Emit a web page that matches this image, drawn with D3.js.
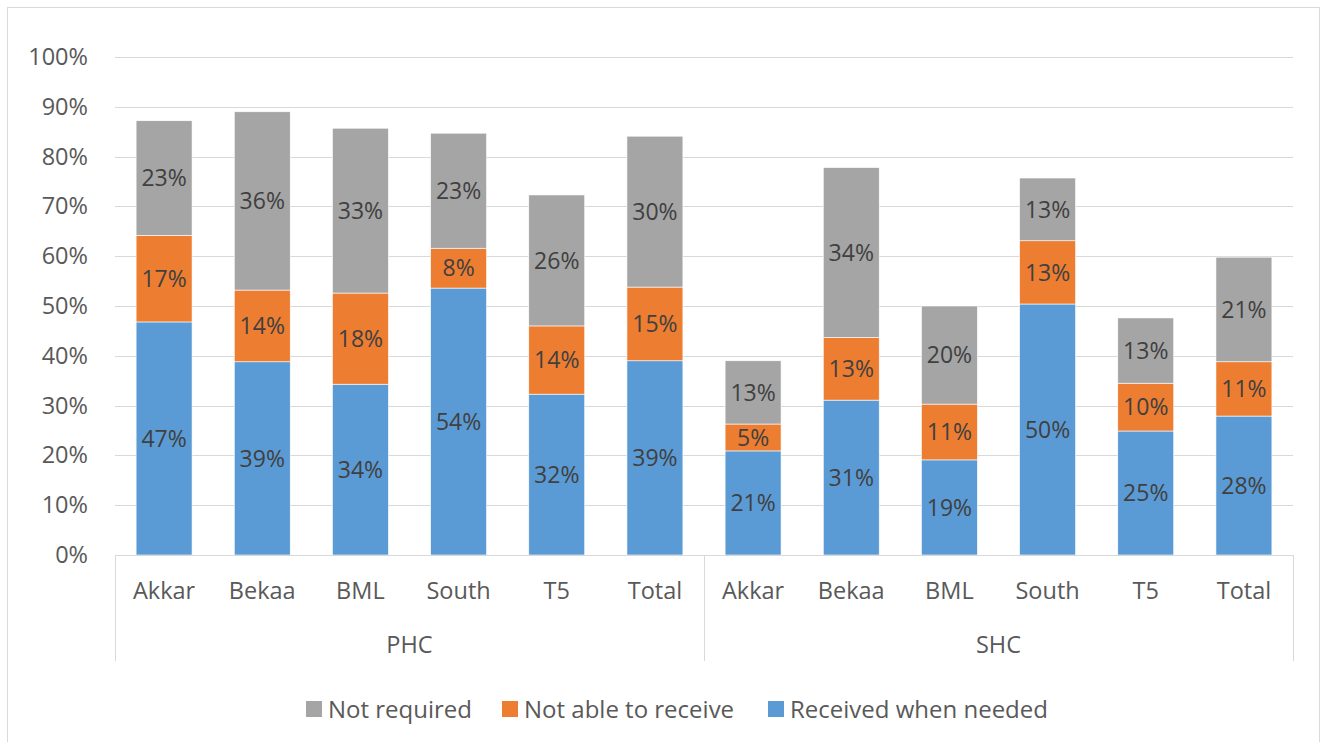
<!DOCTYPE html>
<html>
<head>
<meta charset="utf-8">
<script src="https://cdn.jsdelivr.net/npm/d3@7"></script>
<style>
  html, body { margin: 0; padding: 0; background: #fff; }
  svg { display: block; }
  text { font-family: "Open Sans", "Liberation Sans", sans-serif; }
</style>
</head>
<body>
<svg id="chart" width="1321" height="742"></svg>
<script>
const groups = ["PHC", "SHC"];
const regions = ["Akkar", "Bekaa", "BML", "South", "T5", "Total"];
const seriesNames = ["Received when needed", "Not able to receive", "Not required"];
const received    = [46.8, 38.8, 34.3, 53.6, 32.3, 39.0, 20.9, 31.1, 19.1, 50.4, 24.9, 27.9];
const notAble     = [17.4, 14.4, 18.3, 8.0, 13.7, 14.8, 5.4, 12.6, 11.2, 12.7, 9.6, 10.9];
const notRequired = [23.0, 35.8, 33.1, 23.1, 26.3, 30.3, 12.7, 34.1, 19.7, 12.6, 13.1, 21.0];
const yTicks = [0, 10, 20, 30, 40, 50, 60, 70, 80, 90, 100];
const legendOrder = ["Not required", "Not able to receive", "Received when needed"];

const colors = {
  "Received when needed": "#5B9BD5",
  "Not able to receive": "#ED7D31",
  "Not required": "#A5A5A5"
};

(function () {
const svg = d3.select("#chart");
const pL = 115, pR = 1293, pT = 57, pB = 555;

// outer border
svg.append("rect").attr("x", 7.5).attr("y", 7.5).attr("width", 1312).attr("height", 750)
  .attr("fill", "none").attr("stroke", "#D9D9D9").attr("stroke-width", 1);

const rows = [];
groups.forEach((g, gi) => regions.forEach((r, ri) => {
  const i = gi * regions.length + ri;
  rows.push({ key: g + "|" + r, group: g, region: r,
    "Received when needed": received[i],
    "Not able to receive": notAble[i],
    "Not required": notRequired[i] });
}));

const x = d3.scaleBand().domain(rows.map(d => d.key)).range([pL, pR])
  .paddingInner(0.43).paddingOuter(0.215);
const y = d3.scaleLinear().domain([0, 100]).range([pB, pT]);

// gridlines
svg.append("g").selectAll("line").data(yTicks.filter(t => t > 0)).join("line")
  .attr("x1", pL).attr("x2", pR)
  .attr("y1", d => Math.round(y(d)) + 0.5).attr("y2", d => Math.round(y(d)) + 0.5)
  .attr("stroke", "#D9D9D9").attr("stroke-width", 1);

// y axis labels
const yAxis = d3.axisLeft(y).tickValues(yTicks).tickFormat(d => d + "%").tickSize(0).tickPadding(27);
const ya = svg.append("g").attr("transform", `translate(${pL},0)`).call(yAxis);
ya.select(".domain").remove();
ya.selectAll("text").attr("font-size", 23.5).attr("fill", "#595959")
  .style("font-family", '"Open Sans", sans-serif');

// stacked bars
const stack = d3.stack().keys(seriesNames);
const layers = stack(rows);
const lg = svg.append("g").selectAll("g").data(layers).join("g")
  .attr("fill", d => colors[d.key]);
lg.selectAll("rect").data(d => d).join("rect")
  .attr("x", d => x(d.data.key))
  .attr("width", x.bandwidth())
  .attr("y", d => y(d[1]))
  .attr("height", d => y(d[0]) - y(d[1]))
  .attr("stroke", "#ffffff").attr("stroke-width", 0.6);

// data labels
const lab = svg.append("g").selectAll("g").data(layers).join("g");
lab.selectAll("text").data(d => d).join("text")
  .attr("x", d => x(d.data.key) + x.bandwidth() / 2)
  .attr("y", d => (y(d[0]) + y(d[1])) / 2)
  .attr("dy", "0.36em")
  .attr("text-anchor", "middle")
  .attr("font-size", 23)
  .attr("fill", "#404040")
  .text(d => Math.round(d[1] - d[0]) + "%");

// category axis (multi-level)
const ax = svg.append("g");
ax.append("line").attr("x1", pL).attr("x2", pR).attr("y1", pB + 0.5).attr("y2", pB + 0.5)
  .attr("stroke", "#D9D9D9");
const dividers = [pL, (x(rows[5].key) + x.bandwidth() + x(rows[6].key)) / 2, pR];
ax.selectAll("line.div").data(dividers).join("line").attr("class", "div")
  .attr("x1", d => Math.round(d) + 0.5).attr("x2", d => Math.round(d) + 0.5)
  .attr("y1", pB).attr("y2", 661)
  .attr("stroke", "#D9D9D9");

ax.selectAll("text.cat").data(rows).join("text").attr("class", "cat")
  .attr("x", d => x(d.key) + x.bandwidth() / 2)
  .attr("y", 591).attr("dy", "0.36em")
  .attr("text-anchor", "middle").attr("font-size", 23.5).attr("fill", "#595959")
  .text(d => d.region);

ax.selectAll("text.grp").data(groups).join("text").attr("class", "grp")
  .attr("x", (d, i) => (dividers[i] + dividers[i + 1]) / 2)
  .attr("y", 645).attr("dy", "0.36em")
  .attr("text-anchor", "middle").attr("font-size", 23.5).attr("fill", "#595959")
  .text(d => d);

// legend
const legendX = [306, 502, 768];
const leg = svg.append("g").selectAll("g").data(legendOrder).join("g")
  .attr("transform", (d, i) => `translate(${legendX[i]},701)`);
leg.append("rect").attr("width", 16).attr("height", 16).attr("fill", d => colors[d]);
leg.append("text").attr("x", 22).attr("y", 8).attr("dy", "0.36em")
  .attr("font-size", 24).attr("fill", "#595959").text(d => d);
})();
</script>
</body>
</html>
